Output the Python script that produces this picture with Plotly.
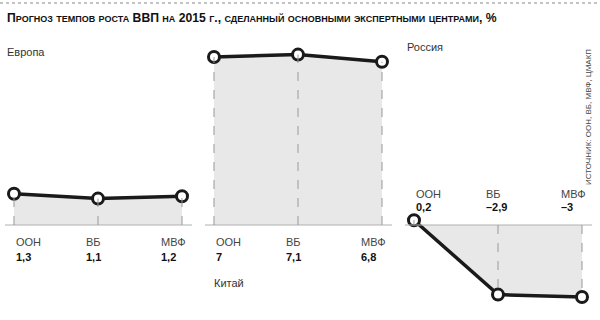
import plotly.graph_objects as go

title = "Прогноз темпов роста ВВП на 2015 г., сделанный основными экспертными центрами, %"
source = "ИСТОЧНИК: ООН, ВБ, МВФ, ЦМАКП"
categories = ["ООН", "ВБ", "МВФ"]
regions = ["Европа", "Китай", "Россия"]
europe = [1.3, 1.1, 1.2]
china = [7.0, 7.1, 6.8]
russia = [0.2, -2.9, -3.0]

def fmt(v):
    s = ("%g" % v).replace(".", ",")
    return s.replace("-", "\u2013")

FONT = "Liberation Sans, Arial, sans-serif"
fig = go.Figure()

panels = [
    dict(name=regions[0], vals=europe, ax="x", dom=[5/600, 192/600], cat_y=0.244, val_y=0.197, name_x=5/600, name_y=1-52/320),
    dict(name=regions[1], vals=china, ax="x2", dom=[205/600, 392/600], cat_y=0.244, val_y=0.197, name_x=212/600, name_y=1-283/320),
    dict(name=regions[2], vals=russia, ax="x3", dom=[405/600, 592/600], cat_y=1-194/320, val_y=1-207/320, name_x=405/600, name_y=1-47/320),
]
shifts = [0, -14, -23]
xr = [-0.107, 2.119]

for i, p in enumerate(panels):
    xs = list(range(len(categories)))
    fig.add_trace(go.Scatter(x=xs, y=p["vals"], xaxis=p["ax"], yaxis="y", mode="lines",
                             fill="tozeroy", fillcolor="#e8e8e8", line=dict(color="rgba(0,0,0,0)", width=0),
                             hoverinfo="skip", showlegend=False))
    axref = p["ax"]
    fig.add_shape(type="line", xref=axref + " domain", yref="y", x0=0, x1=1, y0=0, y1=0,
                  line=dict(color="#b0b0b0", width=1))
    for j, v in enumerate(p["vals"]):
        fig.add_shape(type="line", xref=axref, yref="y", x0=j, x1=j, y0=0, y1=v,
                      line=dict(color="#999999", width=1, dash="dash"))
    fig.add_trace(go.Scatter(x=xs, y=p["vals"], xaxis=p["ax"], yaxis="y", mode="lines+markers",
                             line=dict(color="#1a1a1a", width=3.5),
                             marker=dict(symbol="circle", size=11, color="white",
                                         line=dict(color="#1a1a1a", width=3)),
                             hoverinfo="skip", showlegend=False, cliponaxis=False))
    for j, (c, v) in enumerate(zip(categories, p["vals"])):
        fig.add_annotation(x=j, xref=axref, y=p["cat_y"], yref="paper", text=c, showarrow=False,
                           xanchor="left", yanchor="middle", xshift=shifts[j],
                           font=dict(family=FONT, size=11, color="#444444"))
        fig.add_annotation(x=j, xref=axref, y=p["val_y"], yref="paper", text="<b>" + fmt(v) + "</b>",
                           showarrow=False, xanchor="left", yanchor="middle", xshift=shifts[j],
                           font=dict(family=FONT, size=11, color="#111111"))
    fig.add_annotation(x=p["name_x"], y=p["name_y"], xref="paper", yref="paper", text=p["name"],
                       showarrow=False, xanchor="left", yanchor="middle",
                       font=dict(family=FONT, size=11, color="#333333"))

fig.add_annotation(x=5/600, y=1-18/320, xref="paper", yref="paper", text="<b>" + title + "</b>",
                   showarrow=False, xanchor="left", yanchor="middle",
                   font=dict(family=FONT, size=12.2, color="#111111", variant="small-caps"))
fig.add_annotation(x=588/600, y=1-117/320, xref="paper", yref="paper", text=source, textangle=-90,
                   showarrow=False, xanchor="center", yanchor="middle",
                   font=dict(family=FONT, size=8, color="#444444"))
fig.add_shape(type="line", xref="paper", yref="paper", x0=0, x1=1, y0=1-3/320, y1=1-3/320,
              line=dict(color="#888888", width=1, dash="dot"))

axis_common = dict(range=xr, visible=False, fixedrange=True)
fig.update_layout(
    width=600, height=320, margin=dict(l=0, r=0, t=0, b=0),
    paper_bgcolor="white", plot_bgcolor="white",
    xaxis=dict(domain=panels[0]["dom"], anchor="y", **axis_common),
    xaxis2=dict(domain=panels[1]["dom"], anchor="y", **axis_common),
    xaxis3=dict(domain=panels[2]["dom"], anchor="y", **axis_common),
    yaxis=dict(domain=[0, 1], range=[(225-320)/24, 225/24], visible=False, fixedrange=True),
    showlegend=False,
)
fig.write_html("out.html")
